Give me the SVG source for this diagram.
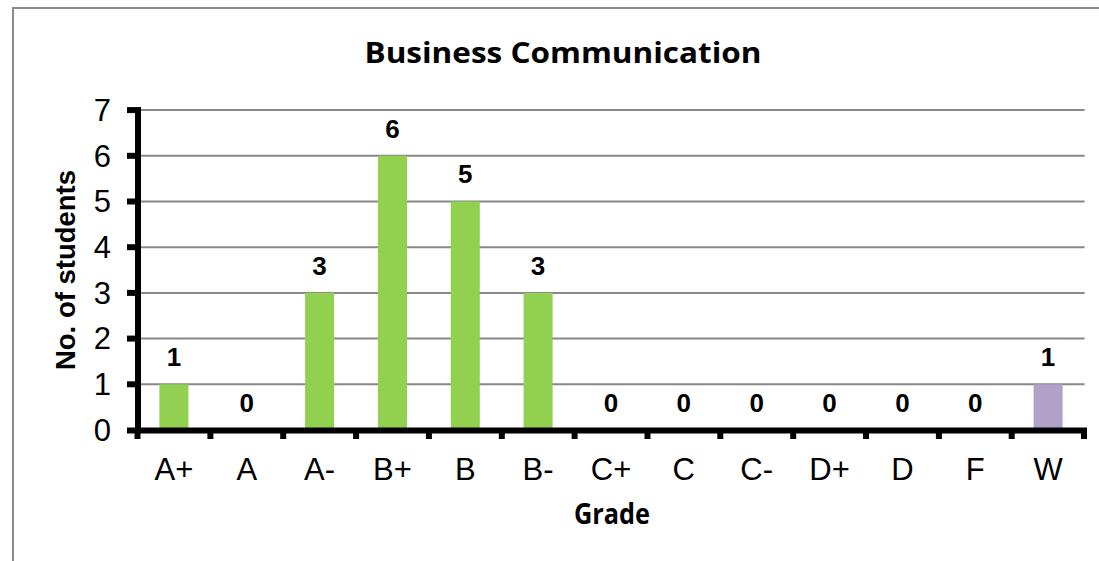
<svg xmlns="http://www.w3.org/2000/svg" width="1099" height="561" viewBox="0 0 1099 561">
<style>
.frame{fill:none;stroke:#8c8c8c;stroke-width:2}
.grid{stroke:#888888;stroke-width:2}
.axis{stroke:#000;stroke-width:6;fill:none}
.tick{stroke:#000;stroke-width:6}
.g{fill:#92D050}
.p{fill:#B1A0C7}
.ytl{font-family:"Liberation Sans",Arial,sans-serif;font-size:31px;fill:#000;text-anchor:end}
.xtl{font-family:"Liberation Sans",Arial,sans-serif;font-size:31px;fill:#000;text-anchor:middle}
.val{font-family:"Liberation Sans",Arial,sans-serif;font-size:26px;font-weight:bold;fill:#000;text-anchor:middle}
.title{font-family:"Open Sans","Liberation Sans",sans-serif;font-size:29px;font-weight:bold;fill:#000;text-anchor:middle}
.xt{font-family:"Open Sans","Liberation Sans",sans-serif;font-size:28px;font-weight:bold;fill:#000;text-anchor:middle}
.yt{font-family:"Liberation Sans",Arial,sans-serif;font-size:27.5px;font-weight:bold;fill:#000;text-anchor:middle}
</style>
<rect width="1099" height="561" fill="#fff"/>
<path class="frame" d="M13,561 V8 H1099"/>
<text class="title" x="563" y="63" textLength="397" lengthAdjust="spacingAndGlyphs">Business Communication</text>
<g id="grid">
<line class="grid" x1="137" y1="110.1" x2="1084.6" y2="110.1"/>
<line class="grid" x1="137" y1="155.8" x2="1084.6" y2="155.8"/>
<line class="grid" x1="137" y1="201.5" x2="1084.6" y2="201.5"/>
<line class="grid" x1="137" y1="247.2" x2="1084.6" y2="247.2"/>
<line class="grid" x1="137" y1="292.9" x2="1084.6" y2="292.9"/>
<line class="grid" x1="137" y1="338.6" x2="1084.6" y2="338.6"/>
<line class="grid" x1="137" y1="384.3" x2="1084.6" y2="384.3"/>
</g>
<g id="bars">
<rect class="g" x="159.4" y="384.3" width="29" height="45.7"/>
<rect class="g" x="305.1" y="292.9" width="29" height="137.1"/>
<rect class="g" x="378.0" y="155.8" width="29" height="274.2"/>
<rect class="g" x="450.8" y="201.5" width="29" height="228.5"/>
<rect class="g" x="523.6" y="292.9" width="29" height="137.1"/>
<rect class="p" x="1033.6" y="384.3" width="29" height="45.7"/>
</g>
<g id="axes">
<path class="axis" d="M138,107 V433"/>
<path class="axis" d="M127,430.5 H1087"/>
<g id="yticks">
<line class="tick" x1="127" y1="110.1" x2="138" y2="110.1"/>
<line class="tick" x1="127" y1="155.8" x2="138" y2="155.8"/>
<line class="tick" x1="127" y1="201.5" x2="138" y2="201.5"/>
<line class="tick" x1="127" y1="247.2" x2="138" y2="247.2"/>
<line class="tick" x1="127" y1="292.9" x2="138" y2="292.9"/>
<line class="tick" x1="127" y1="338.6" x2="138" y2="338.6"/>
<line class="tick" x1="127" y1="384.3" x2="138" y2="384.3"/>
</g>
<g id="xticks">
<line class="tick" x1="137.5" y1="430" x2="137.5" y2="439"/>
<line class="tick" x1="210.4" y1="430" x2="210.4" y2="439"/>
<line class="tick" x1="283.2" y1="430" x2="283.2" y2="439"/>
<line class="tick" x1="356.1" y1="430" x2="356.1" y2="439"/>
<line class="tick" x1="428.9" y1="430" x2="428.9" y2="439"/>
<line class="tick" x1="501.8" y1="430" x2="501.8" y2="439"/>
<line class="tick" x1="574.6" y1="430" x2="574.6" y2="439"/>
<line class="tick" x1="647.5" y1="430" x2="647.5" y2="439"/>
<line class="tick" x1="720.3" y1="430" x2="720.3" y2="439"/>
<line class="tick" x1="793.2" y1="430" x2="793.2" y2="439"/>
<line class="tick" x1="866.0" y1="430" x2="866.0" y2="439"/>
<line class="tick" x1="938.9" y1="430" x2="938.9" y2="439"/>
<line class="tick" x1="1011.7" y1="430" x2="1011.7" y2="439"/>
<line class="tick" x1="1084" y1="430" x2="1084" y2="439"/>
</g>
</g>
<g id="ylabels">
<text class="ytl" x="111" y="121">7</text>
<text class="ytl" x="111" y="167">6</text>
<text class="ytl" x="111" y="212">5</text>
<text class="ytl" x="111" y="258">4</text>
<text class="ytl" x="111" y="304">3</text>
<text class="ytl" x="111" y="349">2</text>
<text class="ytl" x="111" y="395">1</text>
<text class="ytl" x="111" y="441">0</text>
</g>
<g id="xlabels">
<text class="xtl" x="173.9" y="480">A+</text>
<text class="xtl" x="246.8" y="480">A</text>
<text class="xtl" x="319.6" y="480">A-</text>
<text class="xtl" x="392.5" y="480">B+</text>
<text class="xtl" x="465.3" y="480">B</text>
<text class="xtl" x="538.1" y="480">B-</text>
<text class="xtl" x="611.0" y="480">C+</text>
<text class="xtl" x="683.8" y="480">C</text>
<text class="xtl" x="756.7" y="480">C-</text>
<text class="xtl" x="829.5" y="480">D+</text>
<text class="xtl" x="902.4" y="480">D</text>
<text class="xtl" x="975.2" y="480">F</text>
<text class="xtl" x="1048.1" y="480">W</text>
</g>
<g id="values">
<text class="val" x="173.9" y="366">1</text>
<text class="val" x="246.8" y="412">0</text>
<text class="val" x="319.6" y="275">3</text>
<text class="val" x="392.5" y="138">6</text>
<text class="val" x="465.3" y="183">5</text>
<text class="val" x="538.1" y="275">3</text>
<text class="val" x="611.0" y="412">0</text>
<text class="val" x="683.8" y="412">0</text>
<text class="val" x="756.7" y="412">0</text>
<text class="val" x="829.5" y="412">0</text>
<text class="val" x="902.4" y="412">0</text>
<text class="val" x="975.2" y="412">0</text>
<text class="val" x="1048.1" y="366">1</text>
</g>
<text class="xt" x="612" y="524" textLength="76" lengthAdjust="spacingAndGlyphs">Grade</text>
<text class="yt" transform="translate(75,270) rotate(-90)">No. of students</text>
</svg>
